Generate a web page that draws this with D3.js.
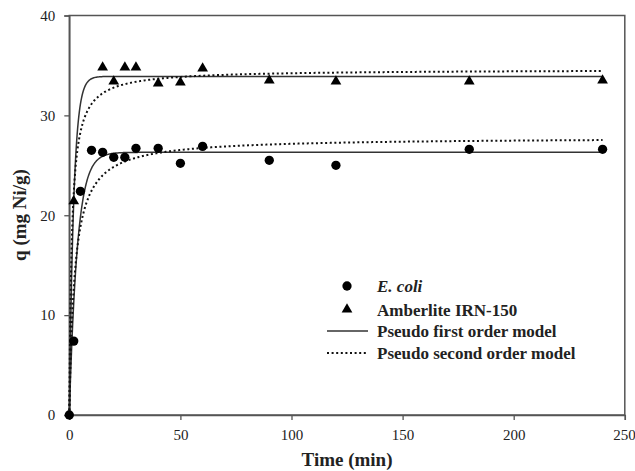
<!DOCTYPE html>
<html>
<head>
<meta charset="utf-8">
<script src="https://cdn.jsdelivr.net/npm/d3@7"></script>
<style>
  html, body { margin: 0; padding: 0; background: #fff; }
  svg { display: block; }
  text { font-family: "Liberation Serif", "Times New Roman", serif; fill: #222; }
</style>
</head>
<body>
<svg id="chart" width="635" height="471"></svg>
<script>
// Sampling times (min)
const timeEcoli = [0, 2, 5, 10, 15, 20, 25, 30, 40, 50, 60, 90, 120, 180, 240];
const qEcoli    = [0, 7.4, 22.4, 26.5, 26.3, 25.8, 25.8, 26.7, 26.7, 25.2, 26.9, 25.5, 25.0, 26.6, 26.6];

const timeAmber = [2, 15, 20, 25, 30, 40, 50, 60, 90, 120, 180, 240];
const qAmber    = [21.4, 34.8, 33.4, 34.8, 34.8, 33.2, 33.3, 34.7, 33.5, 33.4, 33.4, 33.5];

// Fitted kinetic parameters: [qe (mg/g), k]
const pfoEcoli = [26.3, 0.28];     // pseudo first order, k in 1/min
const pfoAmber = [33.9, 0.50];
const psoEcoli = [27.8, 0.0151];   // pseudo second order, k in g/(mg·min)
const psoAmber = [34.6, 0.026];

const xTicks = [0, 50, 100, 150, 200, 250];
const yTicks = [0, 10, 20, 30, 40];

const legendLabels = ["E. coli", "Amberlite IRN-150", "Pseudo first order model", "Pseudo second order model"];

const svg = d3.select("#chart");
const plotL = 69.3, plotR = 624.8, plotT = 15.5, plotB = 415;

const x = d3.scaleLinear().domain([0, 250]).range([plotL, plotR]);
const y = d3.scaleLinear().domain([0, 40]).range([plotB, plotT]);

const axisColor = "#555";

// frame
svg.append("rect")
  .attr("x", plotL).attr("y", plotT)
  .attr("width", plotR - plotL).attr("height", plotB - plotT)
  .attr("fill", "none").attr("stroke", axisColor).attr("stroke-width", 1.5);

// axes
const xAxis = svg.append("g").attr("transform", `translate(0,${plotB})`)
  .call(d3.axisBottom(x).tickValues(xTicks).tickSize(5).tickPadding(9).tickFormat(d3.format("d")));
const yAxis = svg.append("g").attr("transform", `translate(${plotL},0)`)
  .call(d3.axisLeft(y).tickValues(yTicks).tickSize(5).tickPadding(9).tickFormat(d3.format("d")));

[xAxis, yAxis].forEach(g => {
  g.select(".domain").attr("stroke", axisColor).attr("stroke-width", 1.5);
  g.selectAll(".tick line").attr("stroke", axisColor).attr("stroke-width", 1.3);
  g.selectAll(".tick text")
    .attr("font-family", "Liberation Serif, serif")
    .attr("font-size", 15).attr("fill", "#333");
});
// last x label sits against the right edge of the page
xAxis.selectAll(".tick text").filter(d => d === 250).attr("text-anchor", "end").attr("dx", 10.5);

// axis titles
svg.append("text")
  .attr("x", (plotL + plotR) / 2).attr("y", 466)
  .attr("text-anchor", "middle")
  .attr("font-size", 19).attr("font-weight", "bold")
  .text("Time (min)");

svg.append("text")
  .attr("transform", "translate(26,215) rotate(-90)")
  .attr("text-anchor", "middle")
  .attr("font-size", 19).attr("font-weight", "bold")
  .text("q (mg Ni/g)");

// model curves
const tFine = d3.range(0, 240.001, 0.25);
const pfo = p => t => p[0] * (1 - Math.exp(-p[1] * t));
const pso = p => t => (p[1] * p[0] * p[0] * t) / (1 + p[1] * p[0] * t);

const line = d3.line().x(d => x(d[0])).y(d => y(d[1]));

const plot = svg.append("g");

function drawModel(fn, dotted) {
  plot.append("path")
    .datum(tFine.map(t => [t, fn(t)]))
    .attr("d", line)
    .attr("fill", "none")
    .attr("stroke", dotted ? "#111" : "#333")
    .attr("stroke-width", dotted ? 2 : 1.5)
    .attr("stroke-dasharray", dotted ? "2,2.6" : null);
}
drawModel(pfo(pfoEcoli), false);
drawModel(pfo(pfoAmber), false);
drawModel(pso(psoEcoli), true);
drawModel(pso(psoAmber), true);

// data markers
const circleSym = d3.symbol().type(d3.symbolCircle).size(68);
const triSym = d3.symbol().type(d3.symbolTriangle).size(50);

plot.selectAll(".amb").data(timeAmber.map((t, i) => [t, qAmber[i]]))
  .join("path").attr("class", "amb")
  .attr("d", triSym)
  .attr("transform", d => `translate(${x(d[0])},${y(d[1])})`)
  .attr("fill", "#000");

plot.selectAll(".eco").data(timeEcoli.map((t, i) => [t, qEcoli[i]]))
  .join("path").attr("class", "eco")
  .attr("d", circleSym)
  .attr("transform", d => `translate(${x(d[0])},${y(d[1])})`)
  .attr("fill", "#000");

// legend
const lg = svg.append("g");
const rowY = [286, 309.5, 331, 353];
const symX = 347, textX = 377;

lg.append("path").attr("d", circleSym).attr("transform", `translate(${symX},${rowY[0]})`).attr("fill", "#000");
lg.append("path").attr("d", triSym).attr("transform", `translate(${symX},${rowY[1]})`).attr("fill", "#000");
lg.append("line").attr("x1", 327).attr("x2", 368).attr("y1", rowY[2]).attr("y2", rowY[2])
  .attr("stroke", "#333").attr("stroke-width", 1.5);
lg.append("line").attr("x1", 327).attr("x2", 368).attr("y1", rowY[3]).attr("y2", rowY[3])
  .attr("stroke", "#111").attr("stroke-width", 2).attr("stroke-dasharray", "2,2.6");

legendLabels.forEach((s, i) => {
  lg.append("text")
    .attr("x", textX).attr("y", rowY[i] + 6)
    .attr("font-size", 17).attr("font-weight", "bold")
    .attr("font-style", i === 0 ? "italic" : null)
    .text(s);
});
</script>
</body>
</html>
